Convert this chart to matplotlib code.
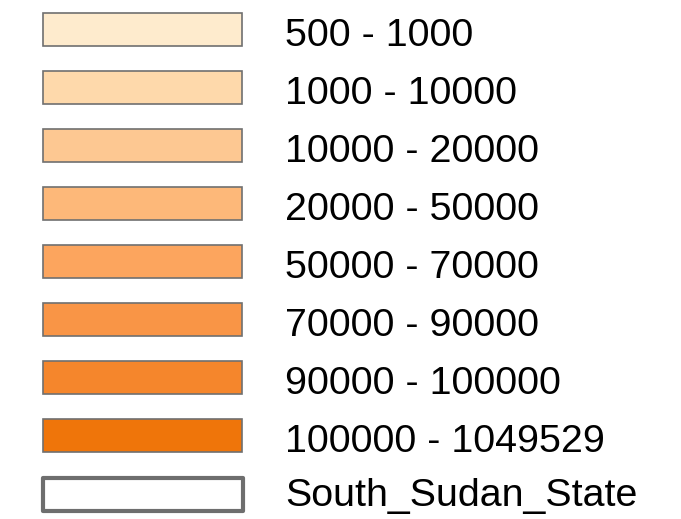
import matplotlib.pyplot as plt

labels = ["500 - 1000", "1000 - 10000", "10000 - 20000", "20000 - 50000",
          "50000 - 70000", "70000 - 90000", "90000 - 100000", "100000 - 1049529",
          "South_Sudan_State"]
fills = ["#FEEBCD", "#FED9AB", "#FDC892", "#FDB879", "#FCA55E",
         "#F99546", "#F5862C", "#EF750A", "#FFFFFF"]

W, H = 681, 519
fig = plt.figure(figsize=(W / 100, H / 100), dpi=100)
ax = fig.add_axes([0, 0, 1, 1])
ax.set_xlim(0, W)
ax.set_ylim(H, 0)
ax.axis('off')

y0, pitch = 29.2, 58.1
last = len(labels) - 1
for i, (lab, col) in enumerate(zip(labels, fills)):
    yc = y0 + pitch * i
    if i == last:
        ax.barh(yc, 200, left=42.5, height=33, color=col, edgecolor='#6e6e6e',
                linewidth=3.0, joinstyle='round')
        base = yc + 12.3
    else:
        ax.barh(yc, 199.5, left=42.5, height=33, color=col, edgecolor='#707070',
                linewidth=1.2)
        base = yc + 16.6
    ax.text(285, base, lab, fontsize=28.4, family='Liberation Sans',
            va='baseline', ha='left', color='black')

fig.savefig('out.png', dpi=100)
